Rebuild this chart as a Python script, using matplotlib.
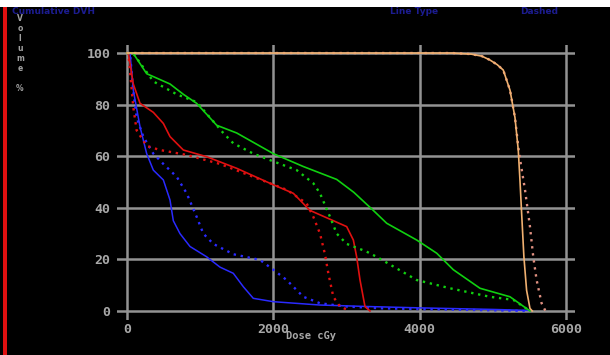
import matplotlib
matplotlib.use('Agg')
import matplotlib.pyplot as plt

# DVH curves (dose in cGy, volume in %)
green_dose = [0, 82, 269, 588, 770, 952, 1226, 1500, 2000, 2410, 2866, 3100, 3366, 3550, 3960, 4233, 4460, 4825, 5235, 5508]
green_vol = [100, 100, 92, 88, 84, 80.5, 72, 69, 61, 56, 51, 46, 39, 34, 27.5, 22.4, 16, 8.8, 5.5, 0]
green_dot_dose = [0, 82, 360, 680, 950, 1134, 1316, 1453, 1726, 2000, 2320, 2547, 2638, 2775, 2866, 3003, 3276, 3412, 3960, 4415, 4961, 5280, 5508]
green_dot_vol = [100, 100, 89, 84, 81, 75, 69, 65, 61, 58, 54.6, 49.5, 45.6, 36.5, 30, 26, 23, 21, 12, 8.8, 5.5, 4.3, 0]

red_dose = [0, 18, 86, 178, 360, 497, 588, 770, 1089, 1500, 1954, 2274, 2500, 2820, 3003, 3094, 3139, 3185, 3253, 3321]
red_vol = [100, 100, 88, 80.5, 77, 72.7, 67.6, 62.4, 59.8, 55.3, 49.5, 45.6, 39, 35, 32.7, 27.5, 21, 12, 1.7, 0]
red_dot_dose = [0, 18, 86, 132, 269, 451, 816, 1271, 1726, 2182, 2456, 2547, 2638, 2706, 2752, 2820, 2911, 3048]
red_dot_vol = [100, 100, 79, 70, 64, 62.4, 60.5, 57, 52, 47, 41.7, 36.5, 30, 22, 14.6, 5.5, 1.7, 0]

blue_dose = [0, 41, 86, 178, 269, 360, 497, 588, 633, 724, 861, 1089, 1271, 1453, 1590, 1726, 2000, 2638, 3321, 4000, 5000, 5500]
blue_vol = [100, 100, 85.6, 71.4, 61, 54.6, 50.8, 43, 35, 30, 25, 21, 17, 14.6, 9.4, 4.9, 3.6, 2.3, 1.7, 1.2, 0.6, 0.2]
blue_dot_dose = [0, 41, 86, 132, 223, 360, 497, 680, 816, 952, 1043, 1180, 1453, 1817, 2000, 2182, 2410, 2638, 3003, 3500, 4500, 5500]
blue_dot_vol = [100, 100, 85, 75, 67.6, 61, 57, 52, 45.6, 36.5, 30, 26, 22, 19.8, 16, 12, 5.5, 3, 1.7, 1.0, 0.5, 0]

orange_dose = [0, 4000, 4450, 4700, 4850, 4961, 5060, 5143, 5235, 5303, 5348, 5371, 5394, 5425, 5462, 5508, 5540]
orange_vol = [100, 100, 100, 99.6, 98.8, 97.3, 95.5, 93.4, 85.6, 75, 62.4, 50.8, 37.9, 21, 8, 1, 0]
orange_dot_dose = [0, 4000, 4450, 4700, 4850, 4961, 5060, 5143, 5235, 5303, 5355, 5400, 5440, 5508, 5553, 5599, 5667, 5720]
orange_dot_vol = [100, 100, 100, 99.6, 98.8, 97.3, 95.5, 93.4, 85.6, 75, 62, 54, 47, 32.7, 21, 12, 3, 0]

x_ticks = [0, 2000, 4000, 6000]
y_ticks = [0, 20, 40, 60, 80, 100]

fig = plt.figure(figsize=(6.1, 3.55), dpi=100, facecolor='black')
# white strip at the top and red bar at the left edge
fig.patches.append(plt.Rectangle((0, 1 - 7 / 355), 1, 7 / 355, transform=fig.transFigure,
                                 facecolor='white', edgecolor='none', zorder=0))
fig.patches.append(plt.Rectangle((3 / 610, 0), 4 / 610, 1 - 7 / 355, transform=fig.transFigure,
                                 facecolor='#e01010', edgecolor='none', zorder=0))

ax = fig.add_axes([0.1926, 0.0986, 0.7508, 0.7738])
ax.set_facecolor('black')

dots = (0, (1, 2))
ax.plot(blue_dose, blue_vol, color='#2a2aff', lw=1.1)
ax.plot(blue_dot_dose, blue_dot_vol, color='#2a2aff', lw=1.7, linestyle=dots, dash_capstyle='butt')
ax.plot(red_dose, red_vol, color='#e01010', lw=1.2)
ax.plot(red_dot_dose, red_dot_vol, color='#e01010', lw=1.7, linestyle=dots, dash_capstyle='butt')
ax.plot(green_dose, green_vol, color='#10d010', lw=1.2)
ax.plot(green_dot_dose, green_dot_vol, color='#10d010', lw=1.7, linestyle=dots, dash_capstyle='butt')
ax.plot(orange_dot_dose, orange_dot_vol, color='#e09080', lw=1.7, linestyle=dots, dash_capstyle='butt')
ax.plot(orange_dose, orange_vol, color='#f0b070', lw=1.2)

ax.set_xlim(-130, 6130)
ax.set_ylim(-3.5, 103)
ax.set_xticks(x_ticks)
ax.set_yticks(y_ticks)
ax.grid(True, color='#939393', lw=1.8, zorder=0)
ax.set_axisbelow(True)
for s in ax.spines.values():
    s.set_visible(False)
ax.tick_params(length=0, colors='#a8a8a8', labelsize=9.5)
ax.tick_params(axis='x', pad=2)
ax.tick_params(axis='y', pad=5)
for lab in ax.get_xticklabels() + ax.get_yticklabels():
    lab.set_family('DejaVu Sans Mono')
    lab.set_fontweight('bold')

fig.text(311 / 610, 1 - 336 / 355, 'Dose cGy', color='#a8a8a8', fontsize=7.5, fontweight='bold',
         family='DejaVu Sans Mono', ha='center', va='center')
fig.text(20 / 610, 1 - 14 / 355, 'V\no\nl\nu\nm\ne\n\n%', color='#a0a0a0', fontsize=5.5,
         fontweight='bold', ha='center', va='top', linespacing=1.15)

header_color = '#1c1c90'
fig.text(12 / 610, 1 - 11 / 355, 'Cumulative DVH', color=header_color, fontsize=6.5, fontweight='bold',
         ha='left', va='center')
fig.text(390 / 610, 1 - 11 / 355, 'Line Type', color=header_color, fontsize=6.5, fontweight='bold',
         ha='left', va='center')
fig.text(520 / 610, 1 - 11 / 355, 'Dashed', color=header_color, fontsize=6.5, fontweight='bold',
         ha='left', va='center')

fig.savefig('out.png', dpi=100, facecolor='black')
